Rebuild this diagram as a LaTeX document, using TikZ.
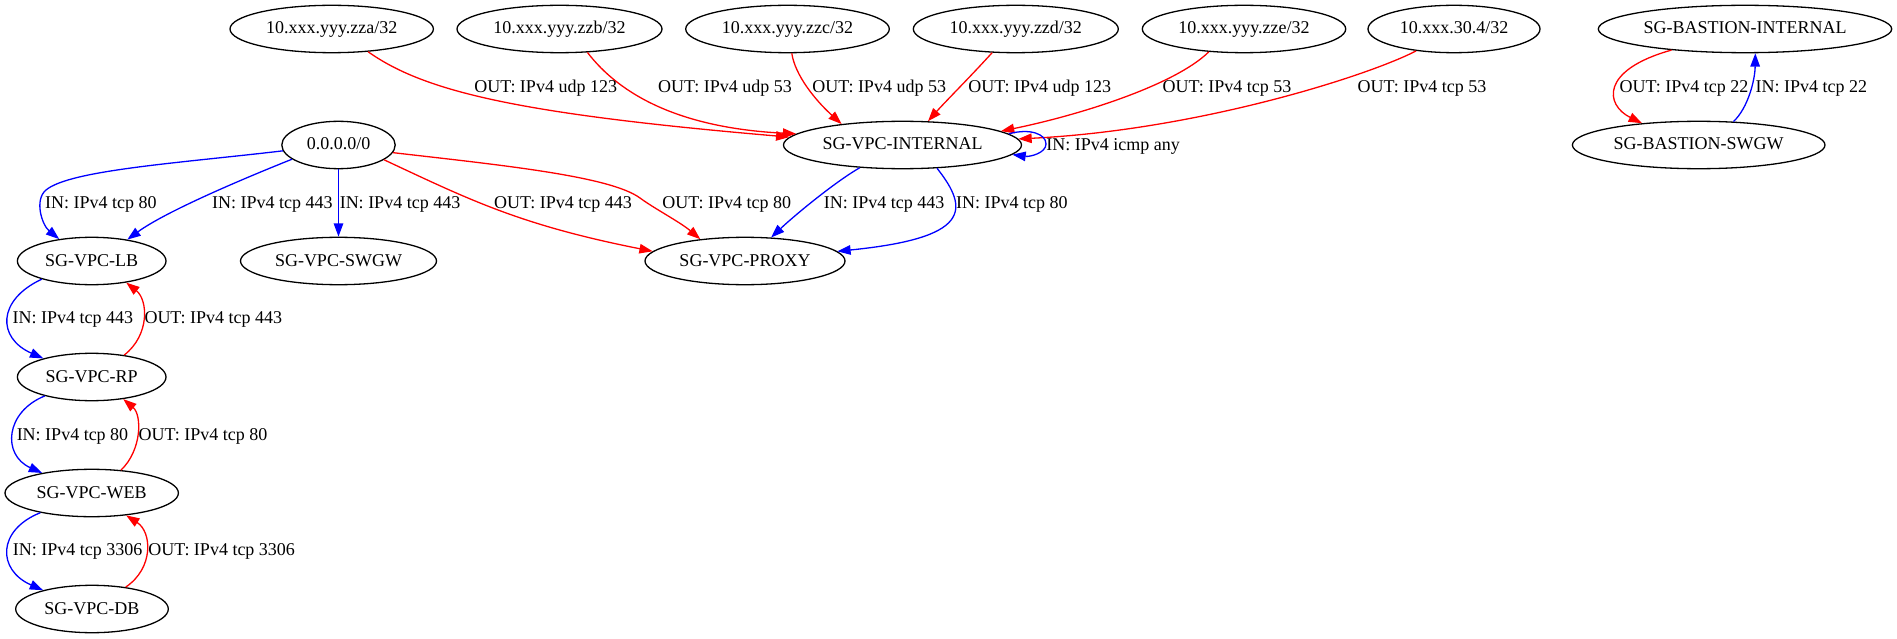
\documentclass[tikz,border=0pt]{standalone}
\usepackage{fontspec}
\setmainfont{Liberation Serif}
\usetikzlibrary{shapes.geometric,arrows.meta}
\newcommand{\gvfont}{\fontsize{18pt}{21pt}\selectfont}
\begin{document}
\begin{tikzpicture}[x=1pt,y=-1pt,
  sg/.style={ellipse, draw=black, line width=1.3pt, inner sep=0pt, minimum height=47.4pt, text height=12pt, text depth=2pt, font=\gvfont},
  lab/.style={anchor=base, inner sep=0pt, font=\gvfont},
  redge/.style={draw=red, line width=1.3pt, -{Triangle[length=13.3pt,width=9.5pt]}},
  bedge/.style={draw=blue, line width=1.3pt, -{Triangle[length=13.3pt,width=9.5pt]}}]
\useasboundingbox (0,0) rectangle (1897,639);
% nodes
\node[sg, minimum width=203.4pt] (zza) at (331.7,29) {10.xxx.yyy.zza/32};
\node[sg, minimum width=205pt] (zzb) at (559.5,29) {10.xxx.yyy.zzb/32};
\node[sg, minimum width=203.6pt] (zzc) at (787.5,29) {10.xxx.yyy.zzc/32};
\node[sg, minimum width=205pt] (zzd) at (1015.8,29) {10.xxx.yyy.zzd/32};
\node[sg, minimum width=203.4pt] (zze) at (1244,29) {10.xxx.yyy.zze/32};
\node[sg, minimum width=172pt] (ipf) at (1454,29) {10.xxx.30.4/32};
\node[sg, minimum width=293.4pt] (bint) at (1745,29) {SG-BASTION-INTERNAL};
\node[sg, minimum width=252.6pt] (bswgw) at (1698.7,145) {SG-BASTION-SWGW};
\node[sg, minimum width=113.4pt] (any) at (338.5,145) {0.0.0.0/0};
\node[sg, minimum width=238pt] (vint) at (902.5,145) {SG-VPC-INTERNAL};
\node[sg, minimum width=148.6pt] (lb) at (91.7,261) {SG-VPC-LB};
\node[sg, minimum width=196pt] (swgw) at (338.5,261) {SG-VPC-SWGW};
\node[sg, minimum width=200pt] (proxy) at (745,261) {SG-VPC-PROXY};
\node[sg, minimum width=148.6pt] (rp) at (91.7,377) {SG-VPC-RP};
\node[sg, minimum width=173.4pt] (web) at (91.7,493) {SG-VPC-WEB};
\node[sg, minimum width=152.6pt] (db) at (92,609) {SG-VPC-DB};
% edges into SG-VPC-INTERNAL
\draw[redge] (zza.-32) .. controls (425,92) and (520,114) .. (vint.176);
\draw[redge] (zzb.-40) .. controls (620,95) and (680,128) .. (vint.174);
\draw[redge] (zzc.-80) .. controls (795,75) and (815,100) .. (vint.161);
\draw[redge] (zzd.-135) .. controls (972,75) and (945,102) .. (vint.43);
\draw[redge] (zze.-147) .. controls (1175,85) and (1080,115) .. (vint.8);
\draw[redge] (ipf.-150) .. controls (1370,75) and (1200,130) .. (vint.3);
\coordinate (loop) at (1046,144);
\draw[bedge] (vint.6.5) .. controls (1030,128) and (1046,134) .. (loop) .. controls (1046,153) and (1030,157) .. (vint.-5);
% 0.0.0.0/0 edges
\coordinate (bend) at (46,190);
\draw[bedge] (any.-174) .. controls (180,163) and (70,170) .. (bend) .. controls (34,200) and (42,225) .. (lb.146);
\draw[bedge] (any.-163) .. controls (240,180) and (165,212) .. (lb.31);
\draw[bedge] (any) -- (swgw);
\draw[redge] (any.-18) .. controls (470,200) and (520,225) .. (proxy.174);
\coordinate (bendb) at (640,198);
\draw[redge] (any.-8) .. controls (500,165) and (610,176) .. (bendb) .. controls (655,209) and (680,222) .. (proxy.154);
% internal to proxy
\draw[bedge] (vint.-152) .. controls (835,182) and (795,215) .. (proxy.42.5);
\draw[bedge] (vint.-34.6) .. controls (970,210) and (970,238) .. (proxy.6);
% left chain
\draw[bedge] (lb.-160.7) .. controls (-3,300) and (-3,338) .. (rp.159.6);
\draw[redge] (rp.34) .. controls (150,335) and (148,300) .. (lb.-32.5);
\draw[bedge] (rp.-158) .. controls (5,412) and (2,455) .. (web.158.8);
\draw[redge] (web.38.4) .. controls (142,450) and (142,415) .. (rp.-35.9);
\draw[bedge] (web.-159.8) .. controls (-3,530) and (-3,570) .. (db.159.5);
\draw[redge] (db.33.9) .. controls (154,568) and (152,532) .. (web.-33.3);
% bastion
\draw[redge] (bint.-164.8) .. controls (1600,70) and (1605,105) .. (bswgw.159.6);
\draw[bedge] (bswgw.34.5) .. controls (1748,108) and (1755,80) .. (bint.-67);
% labels
\node[lab] (l1) at (545.7,92.5) {OUT: IPv4 udp 123};
\node[lab] (l2) at (725,92.5) {OUT: IPv4 udp 53};
\node[lab] (l3) at (879.2,92.5) {OUT: IPv4 udp 53};
\node[lab] (l4) at (1039.7,92.5) {OUT: IPv4 udp 123};
\node[lab] (l5) at (1227,92.5) {OUT: IPv4 tcp 53};
\node[lab] (l6) at (1422,92.5) {OUT: IPv4 tcp 53};
\node[lab] (l7) at (1684,92.5) {OUT: IPv4 tcp 22};
\node[lab] (l8) at (1811.3,92.5) {IN: IPv4 tcp 22};
\node[lab] (l9) at (1113.2,150.5) {IN: IPv4 icmp any};
\node[lab] (l10) at (100.8,208.5) {IN: IPv4 tcp 80};
\node[lab] (l11) at (272.4,208.5) {IN: IPv4 tcp 443};
\node[lab] (l12) at (400,208.5) {IN: IPv4 tcp 443};
\node[lab] (l13) at (563,208) {OUT: IPv4 tcp 443};
\node[lab] (l14) at (726.7,208) {OUT: IPv4 tcp 80};
\node[lab] (l15) at (884.2,208) {IN: IPv4 tcp 443};
\node[lab] (l16) at (1011.9,208) {IN: IPv4 tcp 80};
\node[lab] (l17) at (72.8,323.5) {IN: IPv4 tcp 443};
\node[lab] (l18) at (213.3,323.5) {OUT: IPv4 tcp 443};
\node[lab] (l19) at (72.5,440.5) {IN: IPv4 tcp 80};
\node[lab] (l20) at (203,440.5) {OUT: IPv4 tcp 80};
\node[lab] (l21) at (77.7,555.5) {IN: IPv4 tcp 3306};
\node[lab] (l22) at (221.7,555.5) {OUT: IPv4 tcp 3306};
\end{tikzpicture}
\end{document}
